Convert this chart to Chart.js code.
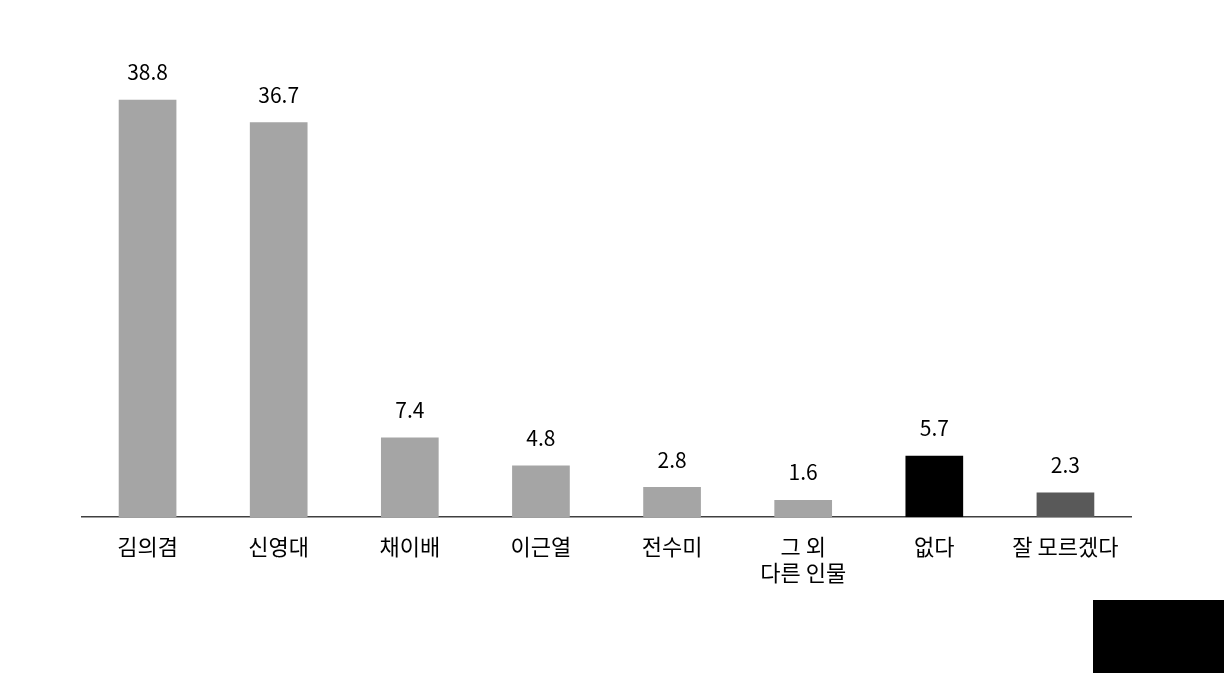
<!doctype html>
<html lang="ko">
  <head>
    <meta charset="utf-8">
    <title>Bar chart</title>
    <script src="https://cdn.jsdelivr.net/npm/chart.js@4/dist/chart.umd.min.js"></script>
    <style>
      html, body { margin: 0; padding: 0; background: #fff; }
      #wrap { position: relative; width: 1224px; height: 673px; }
      #corner { position: absolute; left: 1093px; top: 600px; width: 131px; height: 73px; background: #000; }
    </style>
  </head>
  <body>
    <div id="wrap">
      <canvas id="chart" width="1224" height="673"></canvas>
      <div id="corner"></div>
    </div>

    <script>
    // values
    var categories = ["김의겸", "신영대", "채이배", "이근열", "전수미", ["그 외", "다른 인물"], "없다", "잘 모르겠다"];
    var values = [38.8, 36.7, 7.4, 4.8, 2.8, 1.6, 5.7, 2.3];
    var barColors = ["#a5a5a5", "#a5a5a5", "#a5a5a5", "#a5a5a5", "#a5a5a5", "#a5a5a5", "#000000", "#595959"];

    var fontFamily = "'Noto Sans CJK KR', 'Noto Sans', sans-serif";

    // draws the number above every bar
    var valueLabels = {
      id: 'valueLabels',
      afterDatasetsDraw: function(chart) {
        var ctx = chart.ctx;
        var meta = chart.getDatasetMeta(0);
        ctx.save();
        ctx.fillStyle = '#000';
        ctx.font = '21px ' + fontFamily;
        ctx.textAlign = 'center';
        ctx.textBaseline = 'bottom';
        meta.data.forEach(function(bar, i) {
          ctx.fillText(values[i].toFixed(1), bar.x, bar.y - 17);
        });
        ctx.restore();
      }
    };

    var ctx = document.getElementById("chart");
    var myChart = new Chart(ctx, {
      type: 'bar',
      data: {
        labels: categories,
        datasets: [{
          data: values,
          backgroundColor: barColors,
          borderWidth: 0,
          categoryPercentage: 1.0,
          barPercentage: 0.44
        }]
      },
      options: {
        responsive: false,
        animation: false,
        layout: { padding: { left: 82, right: 93, top: 33, bottom: 79 } },
        plugins: {
          legend: { display: false },
          tooltip: { enabled: false }
        },
        scales: {
          x: {
            grid: { display: false },
            border: { display: true, color: '#404040', width: 1.5 },
            ticks: {
              color: '#000',
              padding: 8,
              maxRotation: 0,
              autoSkip: false,
              font: { family: fontFamily, size: 22 }
            }
          },
          y: {
            display: false,
            min: 0,
            max: 45
          }
        }
      },
      plugins: [valueLabels]
    });
    </script>
  </body>
</html>
